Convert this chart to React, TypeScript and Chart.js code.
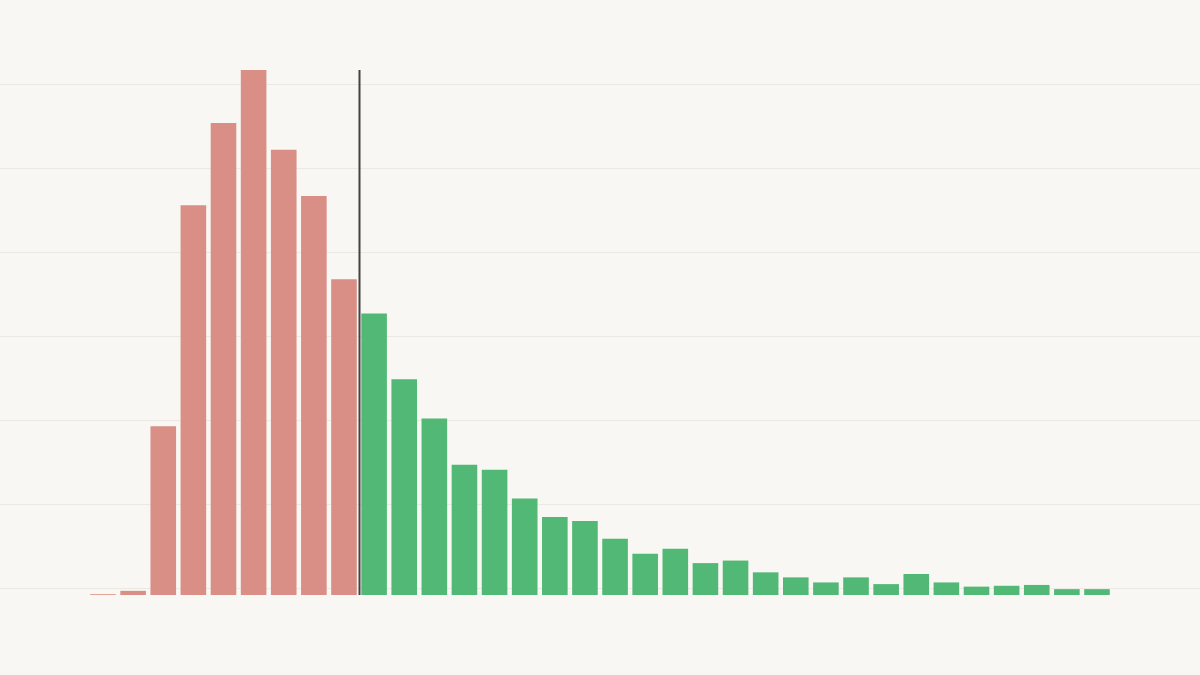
import React, { useEffect, useRef } from "react";
import { Chart, registerables } from "chart.js";

Chart.register(...registerables);

// Bin index of each bar
const bins: number[] = [
  0, 1, 2, 3, 4, 5, 6, 7, 8, 9, 10, 11, 12, 13, 14, 15, 16,
  17, 18, 19, 20, 21, 22, 23, 24, 25, 26, 27, 28, 29, 30, 31, 32, 33,
];

// Share of each bin
const shares: number[] = [
  0.01, 0.05, 2.01, 4.64, 5.62, 6.25, 5.3, 4.75, 3.76,
  3.35, 2.57, 2.1, 1.55, 1.49, 1.15, 0.93, 0.88, 0.67, 0.49, 0.55,
  0.38, 0.41, 0.27, 0.21, 0.15, 0.21, 0.13, 0.25, 0.15, 0.1, 0.11, 0.12, 0.07, 0.07,
];

// Threshold between the two groups (vertical marker)
const threshold = 8.5;

// Horizontal gridline values
const gridValues: number[] = [0.08, 1.08, 2.08, 3.08, 4.08, 5.08, 6.08];

const BELOW = "#d98f85";
const ABOVE = "#52b875";
const BG = "#f8f7f3";

export default function App() {
  const ref = useRef<HTMLCanvasElement | null>(null);

  useEffect(() => {
    if (!ref.current) return;
    const peak = Math.max(...shares);
    const markerPlugin = {
      id: "marker",
      afterDatasetsDraw(chart: any) {
        const { ctx, scales } = chart;
        const x = Math.round(scales.x.getPixelForValue(threshold)) + 0.5;
        const y0 = scales.y.getPixelForValue(0);
        const y1 = scales.y.getPixelForValue(peak);
        ctx.save();
        ctx.strokeStyle = "#45423f";
        ctx.lineWidth = 2;
        ctx.beginPath();
        ctx.moveTo(x, y0);
        ctx.lineTo(x, y1);
        ctx.stroke();
        ctx.restore();
      },
    };
    const chart = new Chart(ref.current, {
      type: "bar",
      data: {
        datasets: [
          {
            data: bins.map((b, i) => ({ x: b, y: shares[i] })),
            backgroundColor: bins.map((b) => (b < threshold ? BELOW : ABOVE)),
            borderWidth: 0,
            barPercentage: 0.85,
            categoryPercentage: 1,
          },
        ],
      },
      options: {
        animation: false,
        responsive: true,
        maintainAspectRatio: false,
        layout: { padding: 0 },
        plugins: {
          legend: { display: false },
          tooltip: { enabled: false },
        },
        scales: {
          x: {
            type: "linear",
            min: -3.42,
            max: 36.42,
            offset: false,
            display: false,
          },
          y: {
            type: "linear",
            min: -0.952,
            max: 7.083,
            display: true,
            border: { display: false },
            ticks: { display: false },
            grid: { color: "#ebe9e4", lineWidth: 1, drawTicks: false },
            afterBuildTicks: (axis: any) => {
              axis.ticks = gridValues.map((v) => ({ value: v }));
            },
          },
        },
      },
      plugins: [markerPlugin],
    });
    return () => chart.destroy();
  }, []);

  return (
    <div
      style={{
        position: "fixed",
        left: 0,
        top: 0,
        width: 1200,
        height: 675,
        background: BG,
      }}
    >
      <canvas ref={ref} style={{ display: "block" }} />
    </div>
  );
}
